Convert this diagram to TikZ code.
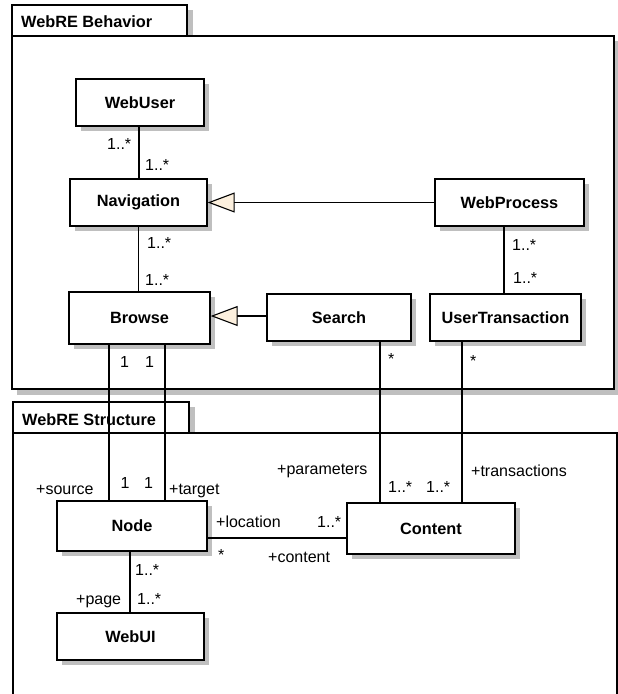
\documentclass[tikz,border=0pt]{standalone}
\usepackage{fontspec}
\setmainfont{Liberation Sans}
\usetikzlibrary{arrows.meta}
\tikzset{
  cls/.style={draw, line width=1.3pt, fill=white, inner sep=0pt,
    font=\fontsize{16.3}{18}\selectfont\bfseries},
  shadowfill/.style={fill=black!25},
  frm/.style={draw, line width=1.3pt, fill=white},
  tabtext/.style={font=\fontsize{16.3}{18}\selectfont\bfseries, inner sep=0pt, anchor=base west},
  lbl/.style={font=\fontsize{16}{18}\selectfont, inner sep=0pt, anchor=base west},
  assoc/.style={line width=1.1pt},
  gen/.style={line width=1.1pt, -{Triangle[length=27pt,width=20pt,fill={rgb,255:red,252;green,240;blue,222},line width=1.1pt]}},
}
\newcommand{\clsshadowbox}[4]{% cx, cy, w, h
  \path[shadowfill] ({#1-#3/2+5},{#2-#4/2+5}) rectangle ({#1+#3/2+5},{#2+#4/2+5});
}
\begin{document}
\begin{tikzpicture}[x=1pt,y=-1pt]
\useasboundingbox (0,0) rectangle (618,694);
% ---- frame: WebRE Behavior
\path[shadowfill] (17,10) rectangle (193,41);
\path[shadowfill] (17,41) rectangle (620,395);
\draw[frm] (12,36) rectangle (614,389);
\draw[frm] (12,5) rectangle (187,36);
\node[tabtext] (tabB) at (21,27) {WebRE Behavior};
% ---- frame: WebRE Structure
\path[shadowfill] (18,407) rectangle (195,438);
\path[fill=white] (13,433) rectangle (617,700);
\draw[line width=1.3pt] (13,700) -- (13,433) -- (617,433) -- (617,700);
\draw[frm] (13,402) rectangle (189,433);
\node[tabtext] (tabS) at (22,425) {WebRE Structure};
% ---- class shadows
\clsshadowbox{140}{102.5}{128}{47}
\clsshadowbox{138.5}{202.5}{137}{47}
\clsshadowbox{509.5}{202.5}{149}{47}
\clsshadowbox{139.5}{318}{141}{52}
\clsshadowbox{339}{317.5}{144}{47}
\clsshadowbox{505.5}{317.5}{151}{47}
\clsshadowbox{132}{526}{150}{50}
\clsshadowbox{130.5}{636.5}{147}{47}
\clsshadowbox{431}{528.5}{168}{51}
% ---- classes
\node[cls, minimum width=128pt, minimum height=47pt] (webuser) at (140,102.5) {WebUser};
\node[cls, minimum width=137pt, minimum height=47pt] (nav) at (138.5,202.5) {Navigation};
\node[cls, minimum width=149pt, minimum height=47pt] (wp) at (509.5,202.5) {WebProcess};
\node[cls, minimum width=141pt, minimum height=52pt] (browse) at (139.5,318) {Browse};
\node[cls, minimum width=144pt, minimum height=47pt] (search) at (339,317.5) {Search};
\node[cls, minimum width=151pt, minimum height=47pt] (ut) at (505.5,317.5) {UserTransaction};
\node[cls, minimum width=150pt, minimum height=50pt] (node) at (132,526) {Node};
\node[cls, minimum width=147pt, minimum height=47pt] (webui) at (130.5,636.5) {WebUI};
\node[cls, minimum width=168pt, minimum height=51pt] (content) at (431,528.5) {Content};
% ---- connectors
\draw[assoc] ([xshift=-1pt]webuser.south) -- ([xshift=-1pt]webuser.south |- nav.north);
\draw[assoc] (nav.south) -- (nav.south |- browse.north);
\draw[gen] (wp.west) -- (nav.east);
\draw[gen] ([yshift=1.5pt]search.west) -- ([yshift=1.5pt]search.west -| browse.east);
\draw[assoc] ([xshift=-5.5pt]wp.south) -- ([xshift=-5.5pt]wp.south |- ut.north);
\draw[assoc] ([xshift=-30.5pt]browse.south) -- ([xshift=-30.5pt]browse.south |- node.north);
\draw[assoc] ([xshift=25.5pt]browse.south) -- ([xshift=25.5pt]browse.south |- node.north);
\draw[assoc] ([xshift=41pt]search.south) -- ([xshift=41pt]search.south |- content.north);
\draw[assoc] ([xshift=-43.5pt]ut.south) -- ([xshift=-43.5pt]ut.south |- content.north);
\draw[assoc] ([yshift=-12pt]node.east) -- ([yshift=-12pt]node.east -| content.west);
\draw[assoc] ([xshift=-2pt]node.south) -- ([xshift=-2pt]node.south |- webui.north);
% ---- labels
\node[lbl] (m1) at (107,149) {1..*};
\node[lbl] (m2) at (145,170) {1..*};
\node[lbl] (m3) at (147,248) {1..*};
\node[lbl] (m4) at (145,285) {1..*};
\node[lbl] (m5) at (512,250) {1..*};
\node[lbl] (m6) at (513,283) {1..*};
\node[lbl] (m7) at (120,367) {1};
\node[lbl] (m8) at (145,367) {1};
\node[lbl] (m9) at (388,364) {*};
\node[lbl] (m10) at (470,366) {*};
\node[lbl] (r1) at (36,494) {+source};
\node[lbl] (m11) at (120.5,488) {1};
\node[lbl] (m12) at (144,488) {1};
\node[lbl] (r2) at (169,494) {+target};
\node[lbl] (r3) at (216,527) {+location};
\node[lbl] (m13) at (218,560) {*};
\node[lbl] (r4) at (268,562) {+content};
\node[lbl] (m14) at (135,575) {1..*};
\node[lbl] (r5) at (76,604) {+page};
\node[lbl] (m15) at (137,604) {1..*};
\node[lbl] (r6) at (277,474) {+parameters};
\node[lbl] (r7) at (471,476) {+transactions};
\node[lbl] (m16) at (388,492) {1..*};
\node[lbl] (m17) at (426,492) {1..*};
\node[lbl] (m18) at (317,527) {1..*};
\end{tikzpicture}
\end{document}
